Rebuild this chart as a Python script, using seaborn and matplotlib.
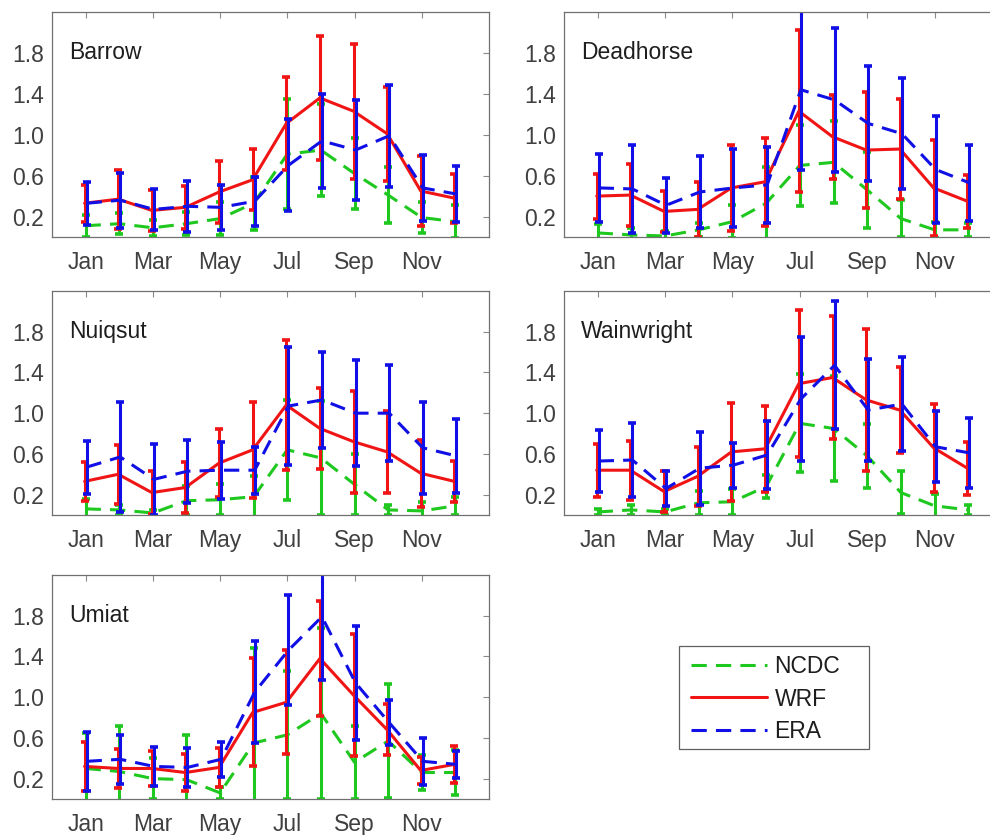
import numpy as np
import pandas as pd
import seaborn as sns
import matplotlib.pyplot as plt
from matplotlib.lines import Line2D
from matplotlib.patches import Rectangle

# Month axis
months = np.arange(1, 13)
tick_months = [1, 3, 5, 7, 9, 11]
tick_labels = ['Jan', 'Mar', 'May', 'Jul', 'Sep', 'Nov']
stations = ['Barrow', 'Deadhorse', 'Nuiqsut', 'Wainwright', 'Umiat']
sources = ['NCDC', 'WRF', 'ERA']

# Barrow
barrow_ncdc = [0.11, 0.13, 0.09, 0.13, 0.18, 0.33, 0.81, 0.85, 0.62, 0.41, 0.19, 0.15]
barrow_ncdc_sd = [0.11, 0.10, 0.08, 0.11, 0.16, 0.26, 0.54, 0.45, 0.35, 0.27, 0.15, 0.16]
barrow_wrf = [0.33, 0.37, 0.26, 0.29, 0.44, 0.56, 1.11, 1.36, 1.23, 1.01, 0.45, 0.38]
barrow_wrf_sd = [0.18, 0.29, 0.20, 0.21, 0.30, 0.30, 0.45, 0.61, 0.66, 0.46, 0.34, 0.24]
barrow_era = [0.33, 0.36, 0.27, 0.30, 0.29, 0.35, 0.70, 0.94, 0.85, 0.99, 0.48, 0.42]
barrow_era_sd = [0.21, 0.27, 0.20, 0.25, 0.22, 0.24, 0.45, 0.46, 0.49, 0.50, 0.32, 0.27]

# Deadhorse
deadhorse_ncdc = [0.04, 0.02, 0.01, 0.07, 0.15, 0.33, 0.70, 0.73, 0.46, 0.18, 0.07, 0.07]
deadhorse_ncdc_sd = [0.09, 0.07, 0.05, 0.07, 0.16, 0.35, 0.40, 0.40, 0.37, 0.18, 0.08, 0.07]
deadhorse_wrf = [0.40, 0.41, 0.25, 0.27, 0.48, 0.54, 1.23, 0.98, 0.85, 0.86, 0.48, 0.35]
deadhorse_wrf_sd = [0.22, 0.30, 0.20, 0.27, 0.42, 0.43, 0.79, 0.41, 0.57, 0.49, 0.47, 0.26]
deadhorse_era = [0.48, 0.47, 0.31, 0.44, 0.48, 0.51, 1.44, 1.34, 1.11, 1.01, 0.66, 0.53]
deadhorse_era_sd = [0.33, 0.43, 0.27, 0.35, 0.38, 0.37, 0.78, 0.70, 0.56, 0.54, 0.52, 0.37]

# Nuiqsut
nuiqsut_ncdc = [0.06, 0.05, 0.02, 0.14, 0.15, 0.18, 0.64, 0.56, 0.30, 0.05, 0.04, 0.09]
nuiqsut_ncdc_sd = [0.10, 0.05, 0.03, 0.14, 0.15, 0.20, 0.49, 0.56, 0.30, 0.05, 0.09, 0.09]
nuiqsut_wrf = [0.33, 0.40, 0.22, 0.27, 0.51, 0.64, 1.08, 0.85, 0.72, 0.62, 0.41, 0.33]
nuiqsut_wrf_sd = [0.19, 0.29, 0.21, 0.25, 0.33, 0.47, 0.64, 0.40, 0.50, 0.40, 0.33, 0.20]
nuiqsut_era = [0.47, 0.57, 0.35, 0.43, 0.44, 0.44, 1.07, 1.13, 1.00, 1.00, 0.66, 0.58]
nuiqsut_era_sd = [0.26, 0.54, 0.35, 0.31, 0.28, 0.23, 0.58, 0.47, 0.52, 0.47, 0.45, 0.36]

# Wainwright
wainwright_ncdc = [0.03, 0.05, 0.03, 0.12, 0.13, 0.28, 0.90, 0.85, 0.58, 0.22, 0.09, 0.05]
wainwright_ncdc_sd = [0.03, 0.05, 0.03, 0.12, 0.13, 0.11, 0.48, 0.52, 0.31, 0.21, 0.12, 0.05]
wainwright_wrf = [0.44, 0.44, 0.23, 0.38, 0.62, 0.65, 1.29, 1.35, 1.13, 1.03, 0.66, 0.46]
wainwright_wrf_sd = [0.26, 0.29, 0.20, 0.29, 0.48, 0.42, 0.72, 0.60, 0.70, 0.42, 0.43, 0.26]
wainwright_era = [0.53, 0.54, 0.26, 0.46, 0.49, 0.59, 1.14, 1.47, 1.03, 1.09, 0.67, 0.61]
wainwright_era_sd = [0.30, 0.36, 0.17, 0.36, 0.22, 0.33, 0.61, 0.63, 0.50, 0.46, 0.35, 0.34]

# Umiat
umiat_ncdc = [0.30, 0.27, 0.20, 0.19, 0.06, 0.55, 0.63, 0.84, 0.36, 0.57, 0.26, 0.26]
umiat_ncdc_sd = [0.35, 0.45, 0.20, 0.44, 0.06, 0.93, 0.63, 0.84, 0.36, 0.56, 0.17, 0.22]
umiat_wrf = [0.32, 0.30, 0.30, 0.26, 0.31, 0.85, 0.95, 1.38, 1.02, 0.68, 0.28, 0.34]
umiat_wrf_sd = [0.24, 0.19, 0.17, 0.18, 0.19, 0.53, 0.51, 0.56, 0.60, 0.25, 0.13, 0.18]
umiat_era = [0.37, 0.39, 0.32, 0.31, 0.39, 1.05, 1.46, 1.79, 1.14, 0.75, 0.37, 0.34]
umiat_era_sd = [0.29, 0.24, 0.19, 0.19, 0.17, 0.50, 0.54, 0.62, 0.56, 0.22, 0.23, 0.13]

means = {
    'Barrow': [barrow_ncdc, barrow_wrf, barrow_era],
    'Deadhorse': [deadhorse_ncdc, deadhorse_wrf, deadhorse_era],
    'Nuiqsut': [nuiqsut_ncdc, nuiqsut_wrf, nuiqsut_era],
    'Wainwright': [wainwright_ncdc, wainwright_wrf, wainwright_era],
    'Umiat': [umiat_ncdc, umiat_wrf, umiat_era],
}
sds = {
    'Barrow': [barrow_ncdc_sd, barrow_wrf_sd, barrow_era_sd],
    'Deadhorse': [deadhorse_ncdc_sd, deadhorse_wrf_sd, deadhorse_era_sd],
    'Nuiqsut': [nuiqsut_ncdc_sd, nuiqsut_wrf_sd, nuiqsut_era_sd],
    'Wainwright': [wainwright_ncdc_sd, wainwright_wrf_sd, wainwright_era_sd],
    'Umiat': [umiat_ncdc_sd, umiat_wrf_sd, umiat_era_sd],
}

# long table
rows = []
for st in stations:
    for i, src in enumerate(sources):
        for m, v, s in zip(months, means[st][i], sds[st][i]):
            rows.append({'station': st, 'source': src, 'month': m, 'value': v, 'sd': s})
df = pd.DataFrame(rows)

colors = {'NCDC': '#1ec81e', 'WRF': '#f01414', 'ERA': '#0f0fe6'}
styles = {'NCDC': (0, (5, 3)), 'WRF': '-', 'ERA': (0, (5, 3))}
offsets = {'NCDC': 0.0, 'WRF': -0.03, 'ERA': 0.03}
LW = 2.2

sns.set_theme(style='white')
plt.rcParams['font.family'] = ['Liberation Sans', 'DejaVu Sans']

fig = plt.figure(figsize=(9.9, 8.35), dpi=100)
W, H = 990, 835
# axes boxes in pixels: (left, top, width, height)
boxes = [(52, 12, 437, 225), (564, 12, 438, 225),
         (52, 291, 437, 224), (564, 291, 438, 224),
         (52, 575, 437, 224)]

for st, (l, t, w, h) in zip(stations, boxes):
    ax = fig.add_axes([l / W, 1 - (t + h) / H, w / W, h / H])
    sub = df[df['station'] == st]
    for src in sources:
        d = sub[sub['source'] == src]
        x = d['month'] + offsets[src]
        sns.lineplot(x=x.values, y=d['value'].values, ax=ax, color=colors[src],
                     linestyle=styles[src], linewidth=LW, legend=False)
        ax.errorbar(x.values, d['value'].values, yerr=d['sd'].values, fmt='none',
                    ecolor=colors[src], elinewidth=LW, capsize=3.2, capthick=LW + 0.4)
    ax.set_xlim(0, 13)
    ax.set_ylim(0, 2.2)
    ax.set_xticks(tick_months)
    ax.set_xticklabels(tick_labels)
    ax.set_yticks([0.2, 0.6, 1.0, 1.4, 1.8])
    ax.set_yticklabels(['0.2', '0.6', '1.0', '1.4', '1.8'])
    ax.set_xlabel('')
    ax.set_ylabel('')
    ax.tick_params(direction='in', length=4, width=0.8, color='#8a8a8a',
                   labelcolor='#404040', labelsize=16.5, top=True, right=True)
    ax.tick_params(axis='x', pad=10)
    ax.tick_params(axis='y', pad=6)
    for sp in ax.spines.values():
        sp.set_color('#707070')
        sp.set_linewidth(0.9)
    ax.text(0.039, 0.82, st, transform=ax.transAxes, ha='left', va='center',
            fontsize=16.5, color='#1e1e1e')

# legend frame drawn as its own box, legend entries inside it
fig.patches.append(Rectangle((679 / W, 1 - 749 / H), 190 / W, 103 / H,
                             transform=fig.transFigure, fill=True, facecolor='white',
                             edgecolor='#606060', linewidth=0.9))
handles = [Line2D([], [], color=colors[s], linestyle=styles[s], linewidth=LW) for s in sources]
leg = fig.legend(handles, sources, loc='upper left', bbox_to_anchor=(684 / W, 1 - 648 / H),
                 frameon=False, fontsize=16.5,
                 handlelength=3.3, handletextpad=0.35, labelspacing=0.42,
                 borderpad=0.3, borderaxespad=0)
for txt in leg.get_texts():
    txt.set_color('#1e1e1e')

fig.savefig('out.png', dpi=100)
